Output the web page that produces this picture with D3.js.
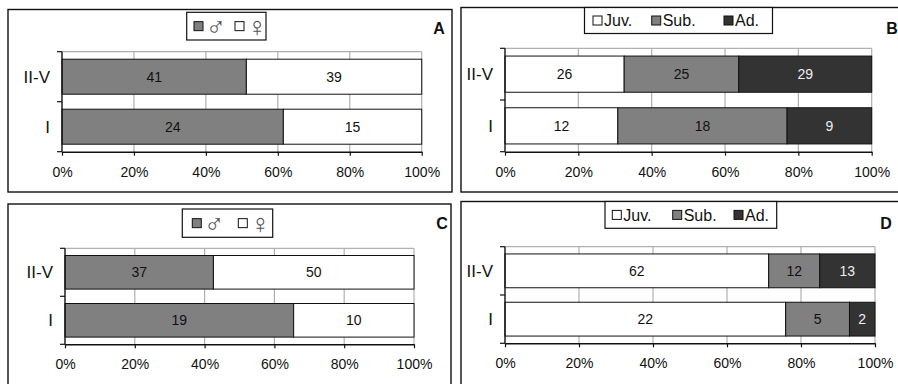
<!DOCTYPE html>
<html>
<head>
<meta charset="utf-8">
<script src="https://cdn.jsdelivr.net/npm/d3@7"></script>
<style>
  html, body { margin: 0; padding: 0; background: #fff; }
  svg { display: block; }
  text { font-family: "Liberation Sans", Arial, sans-serif; }
</style>
</head>
<body>
<svg id="chart" width="898" height="384"></svg>
<script>
// Age classes (rows) shared by every panel
const categories = ["II-V", "I"];

// Sex ratio series (panels A and C)
const sexKeys = ["male", "female"];
const sexLabels = ["♂", "♀"];
const maleA = [41, 24];
const femaleA = [39, 15];
const maleC = [37, 19];
const femaleC = [50, 10];

// Developmental stage series (panels B and D)
const stageKeys = ["juv", "sub", "ad"];
const stageLabels = ["Juv.", "Sub.", "Ad."];
const juvB = [26, 12];
const subB = [25, 18];
const adB = [29, 9];
const juvD = [62, 22];
const subD = [12, 5];
const adD = [13, 2];

// Percentage axis ticks
const xTicks = [0, 0.2, 0.4, 0.6, 0.8, 1.0];
const tickLabels = ["0%", "20%", "40%", "60%", "80%", "100%"];

const colors = { male: "#808080", female: "#ffffff", juv: "#ffffff", sub: "#808080", ad: "#333333" };
const textColors = { male: "#111", female: "#111", juv: "#111", sub: "#111", ad: "#eee" };

function rows(keys, arrays) {
  return categories.map((c, i) => {
    const r = { cat: c };
    keys.forEach((k, j) => r[k] = arrays[j][i]);
    return r;
  });
}

const panels = [
  { letter: "A", keys: sexKeys, labels: sexLabels, data: rows(sexKeys, [maleA, femaleA]),
    frame: [8, 9.5, 452, 192], plot: [62, 51.7, 421.7, 151.7], legend: [186.7, 12.3, 266, 40],
    legendItems: [7.3, 48.3], letterPos: [439, 34], legendType: "sex" },
  { letter: "B", keys: stageKeys, labels: stageLabels, data: rows(stageKeys, [juvB, subB, adB]),
    frame: [461, 7.5, 905, 192], plot: [505, 48.3, 871.7, 151.7], legend: [584.5, 7.5, 772.5, 33.5],
    legendItems: [8.5, 67.2, 139.5], letterPos: [892, 34], legendType: "stage" },
  { letter: "C", keys: sexKeys, labels: sexLabels, data: rows(sexKeys, [maleC, femaleC]),
    frame: [8, 204, 451, 400], plot: [65, 248.3, 414, 344.3], legend: [182.3, 209, 272.7, 237.3],
    legendItems: [10, 56], letterPos: [442, 229], legendType: "sex" },
  { letter: "D", keys: stageKeys, labels: stageLabels, data: rows(stageKeys, [juvD, subD, adD]),
    frame: [461, 201.5, 905, 400], plot: [505, 246.7, 875, 343.3], legend: [605, 201.5, 776.7, 228.3],
    legendItems: [7.3, 67.7, 129], letterPos: [886, 229], legendType: "stage" }
];

const svg = d3.select("#chart");

panels.forEach(p => {
  const g = svg.append("g");
  const [fx0, fy0, fx1, fy1] = p.frame;
  g.append("rect").attr("x", fx0).attr("y", fy0).attr("width", fx1 - fx0).attr("height", fy1 - fy0)
    .attr("fill", "#fff").attr("stroke", "#111").attr("stroke-width", 1.4);

  const [px0, py0, px1, py1] = p.plot;
  const x = d3.scaleLinear().domain([0, 1]).range([px0, px1]);
  const y = d3.scaleBand().domain(categories).range([py0, py1]).paddingInner(0.3).paddingOuter(0.15);

  // vertical gridlines and plot border
  g.selectAll(".grid").data(xTicks.slice(1)).join("line")
    .attr("x1", d => x(d)).attr("x2", d => x(d)).attr("y1", py0).attr("y2", py1)
    .attr("stroke", "#b0b0b0").attr("stroke-width", 1.2);
  g.append("line").attr("x1", px0).attr("x2", px1).attr("y1", py0).attr("y2", py0)
    .attr("stroke", "#b0b0b0").attr("stroke-width", 1.2);

  // stacked bars, normalised to 100%
  const stack = d3.stack().keys(p.keys).offset(d3.stackOffsetExpand);
  const series = stack(p.data);
  series.forEach(s => {
    const key = s.key;
    g.selectAll(null).data(s).join("rect")
      .attr("x", d => x(d[0])).attr("width", d => x(d[1]) - x(d[0]))
      .attr("y", d => y(d.data.cat)).attr("height", y.bandwidth())
      .attr("fill", colors[key]).attr("stroke", "#111").attr("stroke-width", 1);
    g.selectAll(null).data(s).join("text")
      .attr("x", d => (x(d[0]) + x(d[1])) / 2)
      .attr("y", d => y(d.data.cat) + y.bandwidth() / 2)
      .attr("dy", "0.36em").attr("text-anchor", "middle")
      .attr("font-size", 14).attr("fill", textColors[key])
      .text(d => d.data[key]);
  });

  // x axis
  const xAxis = d3.axisBottom(x).tickValues(xTicks).tickFormat((d, i) => tickLabels[i])
    .tickSizeInner(4).tickSizeOuter(0).tickPadding(11);
  const xg = g.append("g").attr("transform", `translate(0,${py1})`).call(xAxis);
  xg.select(".domain").attr("stroke", "#111").attr("stroke-width", 1.4);
  xg.selectAll(".tick line").attr("stroke", "#111").attr("stroke-width", 1.2);
  xg.selectAll(".tick text").attr("font-size", 14).attr("fill", "#111")
    .attr("font-family", "'Liberation Sans', Arial, sans-serif");

  // y axis: line with ticks between categories, labels centred on bars
  g.append("line").attr("x1", px0).attr("x2", px0).attr("y1", py0).attr("y2", py1)
    .attr("stroke", "#111").attr("stroke-width", 1.4);
  const boundaries = [py0, (py0 + py1) / 2, py1];
  g.selectAll(null).data(boundaries).join("line")
    .attr("x1", px0 - 5).attr("x2", px0).attr("y1", d => d).attr("y2", d => d)
    .attr("stroke", "#111").attr("stroke-width", 1.2);
  g.selectAll(null).data(categories).join("text")
    .attr("x", px0 - 12).attr("y", d => y(d) + y.bandwidth() / 2).attr("dy", "0.36em")
    .attr("text-anchor", "end").attr("font-size", 17).attr("fill", "#111").text(d => d);

  // legend box
  const [lx0, ly0, lx1, ly1] = p.legend;
  g.append("rect").attr("x", lx0).attr("y", ly0).attr("width", lx1 - lx0).attr("height", ly1 - ly0)
    .attr("fill", "#fff").attr("stroke", "#111").attr("stroke-width", 1.2);
  const lcy = (ly0 + ly1) / 2;
  p.keys.forEach((k, i) => {
    const sx = lx0 + p.legendItems[i];
    g.append("rect").attr("x", sx).attr("y", lcy - 4.5).attr("width", 9).attr("height", 9)
      .attr("fill", colors[k]).attr("stroke", "#111").attr("stroke-width", 1);
    if (p.legendType === "sex") {
      g.append("text").attr("x", sx + 12).attr("y", lcy).attr("dy", "0.36em")
        .attr("font-size", 27).attr("fill", "#555")
        .attr("font-family", "'DejaVu Sans', sans-serif")
        .text(p.labels[i]);
    } else {
      g.append("text").attr("x", sx + 11).attr("y", lcy).attr("dy", "0.36em")
        .attr("font-size", 16).attr("fill", "#111").text(p.labels[i]);
    }
  });

  // panel letter
  g.append("text").attr("x", p.letterPos[0]).attr("y", p.letterPos[1]).attr("text-anchor", "middle")
    .attr("font-size", 16).attr("font-weight", "bold").attr("fill", "#111").text(p.letter);
});
</script>
</body>
</html>
